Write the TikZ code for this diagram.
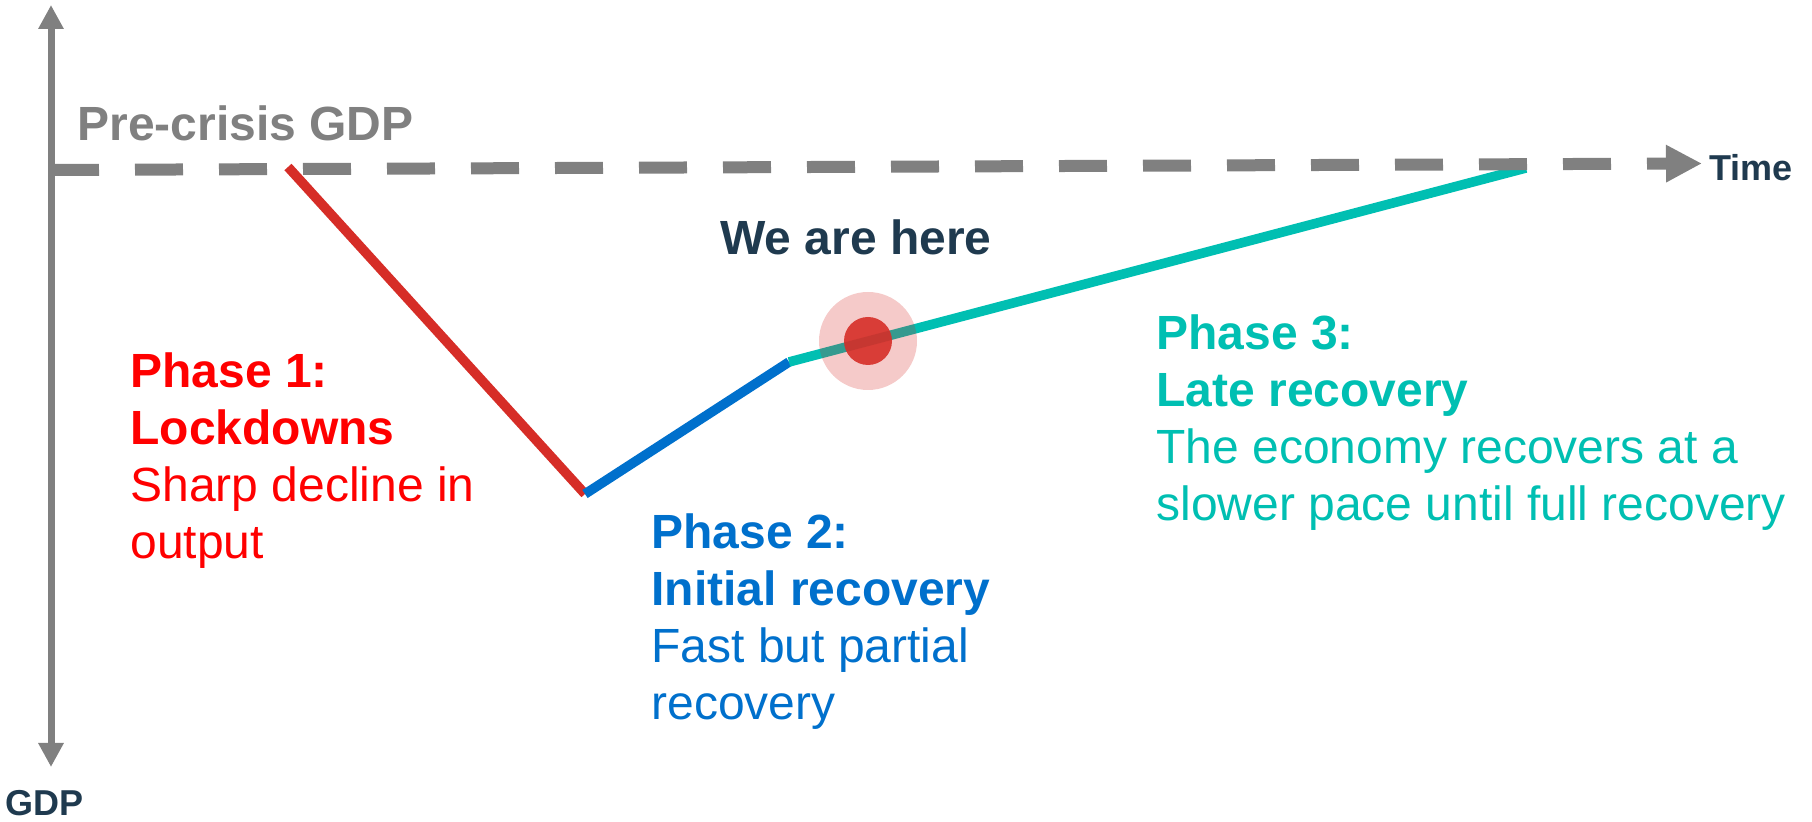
\documentclass[tikz,border=0pt]{standalone}
\usepackage{fontspec}
\setmainfont{Liberation Sans}
\usetikzlibrary{arrows.meta}
\usetikzlibrary{positioning}

\definecolor{axisgray}{HTML}{808080}
\definecolor{navy}{HTML}{1F3A4F}
\definecolor{phaseone}{HTML}{FF0000}
\definecolor{lineone}{HTML}{D62D27}
\definecolor{phasetwo}{HTML}{0070CC}
\definecolor{phasethree}{HTML}{00BFB2}

\newcommand{\bigfont}{\fontsize{24}{28.5}\selectfont}
\newcommand{\smallfont}{\fontsize{18}{21}\selectfont}

\begin{document}
\begin{tikzpicture}[x=0.5pt, y=-0.5pt,
    phase/.style={font=\bigfont, inner sep=0pt, anchor=base west, align=left},
    axislabel/.style={font=\smallfont\bfseries, text=navy, inner sep=0pt, anchor=base west},
    axis/.style={draw=axisgray, line width=3.5pt},
    curve/.style={line width=4.8pt}]
    \useasboundingbox (0,0) rectangle (1812,822);

    \coordinate (top) at (51,5);
    \coordinate (bottom) at (51,767);
    \coordinate (origin) at (51,170);
    \coordinate (time) at (1702,163.5);
    \coordinate (p_0) at (288,167);
    \coordinate (p_1) at (585,494);
    \coordinate (p_2) at (789,362);
    \coordinate (p_3) at (1526,168);
    \coordinate (here) at (868,341);

    % the three phases
    \draw[curve, lineone] (p_0) -- (p_1);
    \draw[curve, phasetwo] (p_1) -- (p_2);
    \draw[curve, phasethree] (p_2) -- (p_3);

    % axes
    \draw[axis, {Triangle[length=12pt,width=12pt]}-{Triangle[length=12pt,width=12pt]}] (bottom) -- (top);
    \draw[axisgray, line width=6pt, dash pattern=on 24pt off 18pt,
        -{Triangle[length=18pt,width=17.5pt]}] (origin) -- (time);

    \fill[lineone, opacity=0.25] (here) circle (24.5pt);
    \fill[lineone, opacity=0.9] (here) circle (12pt);

    \node[axislabel] (t) at (1709,181) {Time};
    \node[axislabel] (g) at (5,816) {GDP};
    \node[phase, font=\bigfont\bfseries, text=axisgray] (pre) at (77,141) {Pre-crisis GDP};
    \node[phase, font=\bigfont\bfseries, text=navy] (w) at (720,255) {We are here};

    % base of a multi-line node is its last line
    \node[phase, text=phaseone] (ph_1) at (130,559)
        {\textbf{Phase 1:}\\\textbf{Lockdowns}\\Sharp decline in\\output};
    \node[phase, text=phasetwo] (ph_2) at (651,720)
        {\textbf{Phase 2:}\\\textbf{Initial recovery}\\Fast but partial\\recovery};
    \node[phase, text=phasethree] (ph_3) at (1156,521)
        {\textbf{Phase 3:}\\\textbf{Late recovery}\\The economy recovers at a\\slower pace until full recovery};
\end{tikzpicture}
\end{document}
